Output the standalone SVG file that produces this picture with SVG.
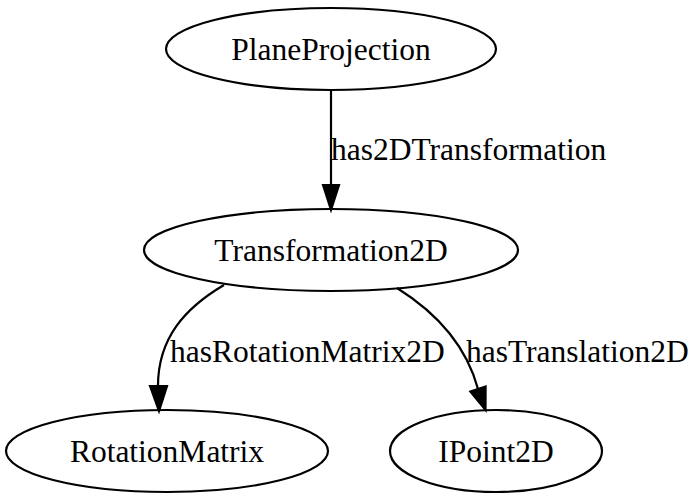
<svg xmlns="http://www.w3.org/2000/svg" width="700" height="501" viewBox="0 0 700 501">
<style>
.n ellipse{fill:none;stroke:#000;stroke-width:2.2}
text{font-family:"Liberation Serif","Times New Roman",serif;font-size:31.5px;fill:#000}
.n text{text-anchor:middle}
.e path{fill:none;stroke:#000;stroke-width:2.2}
.e polygon{fill:#000;stroke:#000;stroke-width:2.2}
</style>
<rect width="700" height="501" fill="#fff"/>
<g id="edges" class="e">
<g id="e1">
<path d="M331,90 L331,185"/>
<polygon points="323,185 331,210 339,185"/>
<text x="331" y="160">has2DTransformation</text>
</g>
<g id="e2">
<path d="M224,285 C185,308 158,338 158,386"/>
<polygon points="150,386 159,411 167,386"/>
<text x="170" y="362">hasRotationMatrix2D</text>
</g>
<g id="e3">
<path d="M397,288 C445,318 468,352 478,389"/>
<polygon points="470.4,391.5 485.5,410 485.6,386.5"/>
<text x="466" y="362">hasTranslation2D</text>
</g>
</g>
<g id="PlaneProjection" class="n">
<ellipse cx="331" cy="49" rx="165" ry="41"/>
<text x="331" y="60">PlaneProjection</text>
</g>
<g id="Transformation2D" class="n">
<ellipse cx="331" cy="250" rx="187" ry="41"/>
<text x="331" y="261">Transformation2D</text>
</g>
<g id="RotationMatrix" class="n">
<ellipse cx="167" cy="451" rx="161" ry="41"/>
<text x="167" y="462">RotationMatrix</text>
</g>
<g id="IPoint2D" class="n">
<ellipse cx="496" cy="451" rx="106" ry="41"/>
<text x="496" y="462">IPoint2D</text>
</g>
</svg>
